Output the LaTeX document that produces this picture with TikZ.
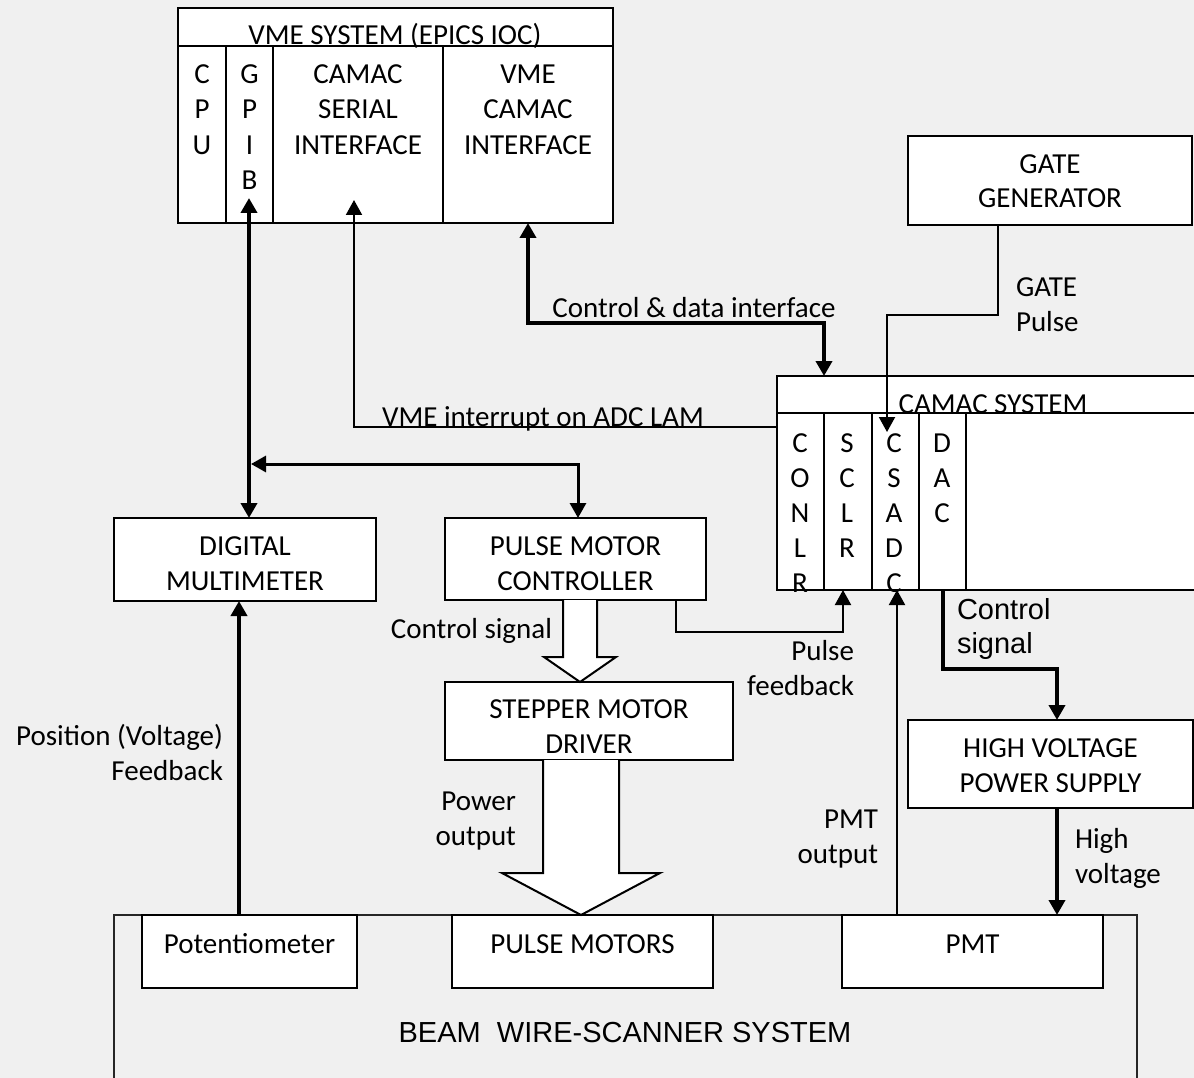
\documentclass[tikz,border=0pt]{standalone}
\usepackage{fontspec}
\setmainfont{Carlito}
\newfontfamily\arialf{Liberation Sans}
\usetikzlibrary{arrows.meta}
\definecolor{bgc}{HTML}{F0F0F0}
\tikzset{
  fnt/.style={font=\fontsize{29}{35}\selectfont},
  blk/.style={draw, line width=2.2pt, fill=white, inner sep=0pt, outer sep=0pt, anchor=north west},
  txt/.style={inner sep=0pt, outer sep=0pt, fnt, align=center},
  atxt/.style={inner sep=0pt, outer sep=0pt, font=\arialf\fontsize{29}{34}\selectfont, align=left},
  thinw/.style={line width=2pt},
  medw/.style={line width=3pt},
  boldw/.style={line width=4pt},
  arr/.style={-{Triangle[length=15pt,width=16pt]}},
  arrs/.style={{Triangle[length=15pt,width=16pt]}-{Triangle[length=15pt,width=16pt]}},
  blockarrow/.style={draw, fill=white, line width=2pt, line join=miter},
}
\newcommand\mybox[5]{\node[blk, minimum width={#4-#2}, minimum height={#5-#3}] (#1) at (#2,#3) {};}
\begin{document}
\begin{tikzpicture}[x=1pt,y=-1pt]
\useasboundingbox (0,0) rectangle (1194,1078);
\fill[bgc] (0,0) rectangle (1194,1078);

% bottom system
\node[draw=black!85, line width=1.6pt, fill=bgc, inner sep=0pt, outer sep=0pt, anchor=north west,
      minimum width=1023, minimum height=185] (beam) at (114,915) {};
\mybox{pot}{142}{915}{357}{988}
\mybox{pm}{452}{915}{713}{988}
\mybox{pmt}{842}{915}{1103}{988}

% VME system
\mybox{vhead}{178}{8}{613}{46}
\mybox{vcpu}{178}{46}{226}{223}
\mybox{vgpib}{226}{46}{273}{223}
\mybox{vser}{273}{46}{443}{223}
\mybox{vvme}{443}{46}{613}{223}

% others
\mybox{gg}{908}{136}{1192}{225}
\mybox{chead}{777}{376}{1205}{413}
\mybox{ccon}{777}{413}{824}{590}
\mybox{csclr}{824}{413}{872}{590}
\mybox{cadc}{872}{413}{919}{590}
\mybox{cdac}{919}{413}{966}{590}
\mybox{crest}{966}{413}{1205}{590}
\mybox{dmm}{114}{518}{376}{601}
\mybox{pmc}{445}{518}{706}{600}
\mybox{smd}{445}{682}{733}{760}
\mybox{hvps}{908}{720}{1193}{808}

% texts (anchor=base is the baseline of the last line)
\node[txt, anchor=base] (tvhead) at (395,45) {VME SYSTEM (EPICS IOC)};
\node[txt, anchor=base, font=\fontsize{29}{35.5}\selectfont] (tcpu) at (202,154.5) {C\\P\\U};
\node[txt, anchor=base, font=\fontsize{29}{35.5}\selectfont] (tgpib) at (249.5,190) {G\\P\\I\\B};
\node[txt, anchor=base, font=\fontsize{29}{35.5}\selectfont] (tser) at (358,154.5) {CAMAC\\SERIAL\\INTERFACE};
\node[txt, anchor=base, font=\fontsize{29}{35.5}\selectfont] (tvme) at (528,154.5) {VME\\CAMAC\\INTERFACE};
\node[txt, anchor=base, font=\fontsize{29}{33.5}\selectfont] (tgg) at (1050,207.5) {GATE\\GENERATOR};
\node[txt, anchor=base west, align=left] (tgp) at (1016,331) {GATE\\Pulse};
\node[txt, anchor=base] (tcd) at (694,317) {Control \& data interface};
\node[txt, anchor=base] (tint) at (543,426) {VME interrupt on ADC LAM};
\node[txt, anchor=base] (tcs) at (993,413) {CAMAC SYSTEM};
\begin{scope}
\clip (777,413) rectangle (966,591);
\node[txt, anchor=base] (tcon) at (800,592) {C\\O\\N\\L\\R};
\node[txt, anchor=base] (tsclr) at (847,557) {S\\C\\L\\R};
\node[txt, anchor=base] (tadc) at (894,592) {C\\S\\A\\D\\C};
\node[txt, anchor=base] (tdac) at (942,522) {D\\A\\C};
\end{scope}
\node[txt, anchor=base] (tdmm) at (245,590) {DIGITAL\\MULTIMETER};
\node[txt, anchor=base] (tpmc) at (575.5,590) {PULSE MOTOR\\CONTROLLER};
\node[txt, anchor=base east] (tcsig) at (552,638) {Control signal};
\node[txt, anchor=base east, align=right] (tpf) at (854,695) {Pulse\\feedback};
\node[txt, anchor=base] (tsmd) at (589,753) {STEPPER MOTOR\\DRIVER};
\node[txt, anchor=base east, align=right] (tpos) at (223,780) {Position (Voltage)\\Feedback};
\node[txt, anchor=base east, align=right] (tpow) at (516,845) {Power\\output};
\node[txt, anchor=base east, align=right] (tpmto) at (878,863) {PMT\\output};
\node[atxt, anchor=base west] (tcsig2) at (957,653) {Control\\signal};
\node[txt, anchor=base] (thv) at (1050.5,792) {HIGH VOLTAGE\\POWER SUPPLY};
\node[txt, anchor=base west, align=left] (thvl) at (1075,883) {High\\voltage};
\node[txt, anchor=base] (tpot) at (249.5,953) {Potentiometer};
\node[txt, anchor=base] (tpm) at (582.5,953) {PULSE MOTORS};
\node[txt, anchor=base] (tpmt) at (972.5,953) {PMT};
\node[atxt, anchor=base] (tbeam) at (625,1042) {BEAM\hspace{0.28em} WIRE-SCANNER SYSTEM};

% connectors
\coordinate (gpibin) at (249,198);
\draw[boldw, arrs] (gpibin) -- (gpibin |- dmm.north);
\coordinate (jn) at (251,464);
\coordinate (pmcin) at (578,518);
\draw[medw, arrs] (jn) -| (pmcin);
\coordinate (cdj) at (824,323);
\draw[boldw, arrs] (vvme.south) |- (cdj) -- (cdj |- chead.north);
\coordinate (ggout) at (998,225);
\coordinate (gpj) at (887,315);
\coordinate (adcin) at (887,432);
\draw[thinw, arr] (ggout) |- (gpj) -- (adcin);
\coordinate (intout) at (777,427);
\coordinate (serin) at (354,200);
\draw[thinw, arr] (intout) -| (serin);
\coordinate (potout) at (239,915);
\draw[boldw, arr] (potout) -- (potout |- dmm.south);
\coordinate (pmtout) at (897,915);
\draw[thinw, arr] (pmtout) -- (pmtout |- cadc.south);
\coordinate (pfout) at (676,600);
\coordinate (pfj) at (676,632);
\coordinate (pfin) at (843,590);
\draw[thinw, arr] (pfout) -- (pfj) -| (pfin);
\coordinate (dacout) at (943,590);
\coordinate (dacj) at (943,669);
\coordinate (hvin) at (1057,720);
\draw[boldw, arr] (dacout) -- (dacj) -| (hvin);
\coordinate (hvout) at (1057,808);
\coordinate (pmtin) at (1057,915);
\draw[boldw, arr] (hvout) -- (pmtin);

% block arrows
\draw[blockarrow] (563,600) -- (563,657) -- (544,657) -- (580,682) -- (616,657) -- (597,657) -- (597,600);
\draw[blockarrow] (543,760) -- (543,873) -- (502,873) -- (581,915) -- (660,873) -- (619,873) -- (619,760);
\end{tikzpicture}
\end{document}
